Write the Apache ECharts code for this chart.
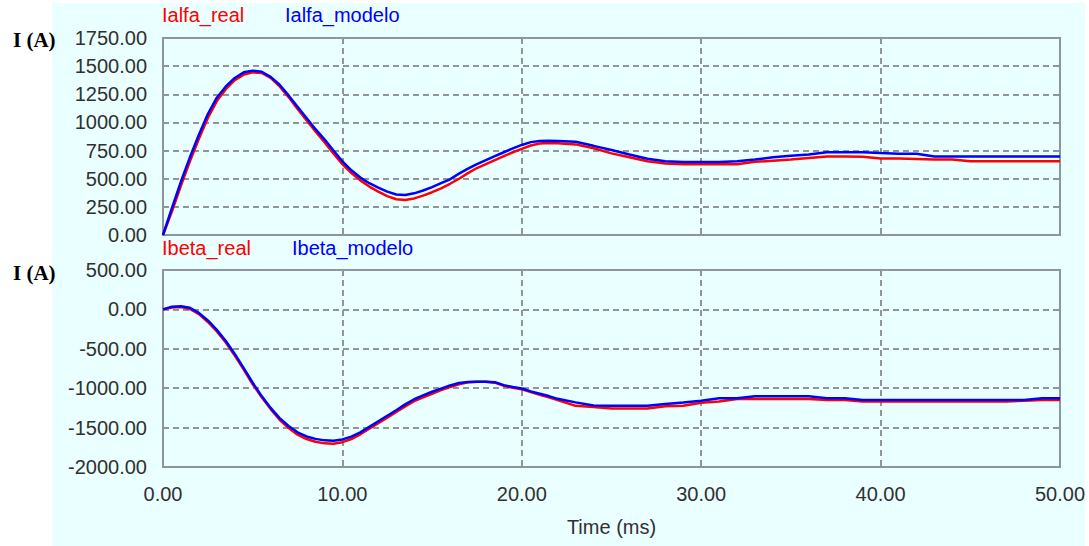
<!DOCTYPE html>
<html>
<head>
<meta charset="utf-8">
<script src="https://cdn.jsdelivr.net/npm/echarts@6/dist/echarts.min.js"></script>
<style>
html,body{margin:0;padding:0;background:#ffffff;}
#bg{position:absolute;left:52px;top:3px;width:1033px;height:543px;background:#EAFFFF;}
#chart{position:absolute;left:0;top:0;width:1089px;height:546px;}
</style>
</head>
<body>
<div id="bg"></div>
<div id="chart"></div>
<script>
// time axis (ms)
const timeMs = [0,0.5,1,1.5,2,2.5,3,3.5,4,4.5,5,5.5,6,6.5,7,7.5,8,8.5,9,9.5,10,10.5,11,11.5,12,12.5,13,13.5,14,14.5,15,15.5,16,16.5,17,17.5,18,18.5,19,19.5,20,20.5,21,21.5,22,23,24,25,26,27,28,29,30,31,32,33,34,35,36,37,38,39,40,41,42,43,44,45,46,47,48,49,50];

const ialfaReal = [0,210,440,655,855,1040,1190,1295,1375,1425,1445,1440,1395,1320,1225,1120,1020,920,825,725,630,550,485,430,385,345,318,311,325,350,380,415,455,500,550,595,630,665,700,735,765,795,812,818,815,805,770,725,690,655,635,629,629,629,629,650,660,670,684,697,697,695,680,680,675,670,670,655,655,655,655,655,655];

const ialfaModelo = [0,240,475,690,890,1075,1220,1320,1395,1445,1460,1450,1405,1335,1240,1140,1040,940,850,750,655,575,510,460,420,385,360,355,370,395,425,460,495,545,590,630,665,700,735,770,800,825,836,838,835,828,792,755,715,678,655,648,648,648,656,670,690,705,715,736,736,736,728,721,721,697,697,697,697,697,697,697,697];

const ibetaReal = [0,25,30,5,-60,-160,-280,-420,-585,-765,-950,-1115,-1265,-1400,-1505,-1590,-1645,-1680,-1700,-1705,-1685,-1645,-1585,-1515,-1445,-1375,-1300,-1230,-1165,-1115,-1070,-1025,-985,-950,-925,-918,-918,-930,-970,-995,-1015,-1050,-1085,-1115,-1150,-1224,-1240,-1258,-1258,-1258,-1230,-1224,-1185,-1168,-1137,-1137,-1137,-1137,-1137,-1150,-1150,-1168,-1168,-1168,-1168,-1168,-1168,-1168,-1168,-1168,-1159,-1150,-1150];

const ibetaModelo = [0,35,40,20,-45,-140,-260,-400,-565,-745,-930,-1100,-1250,-1380,-1480,-1560,-1612,-1643,-1662,-1668,-1650,-1615,-1560,-1490,-1420,-1350,-1280,-1205,-1140,-1090,-1045,-1005,-965,-935,-920,-918,-918,-925,-961,-985,-1003,-1040,-1070,-1100,-1135,-1180,-1220,-1224,-1224,-1224,-1202,-1181,-1159,-1128,-1128,-1103,-1103,-1103,-1103,-1128,-1128,-1150,-1150,-1150,-1150,-1150,-1150,-1150,-1150,-1150,-1150,-1128,-1128];

const seriesNames = ['Ialfa_real','Ialfa_modelo','Ibeta_real','Ibeta_modelo'];
const yTitle = 'I (A)';
const xTitle = 'Time (ms)';

const pair = arr => timeMs.map((t,i)=>[t, arr[i]]);

const labelFont = {fontFamily:'Liberation Sans, Arial, sans-serif', fontSize:20, color:'#303030'};
const gridLine = {show:true, lineStyle:{color:'#8e969c', width:2, type:[6,4]}};

const chart = echarts.init(document.getElementById('chart'), null, {renderer:'svg'});
chart.setOption({
  backgroundColor:'transparent',
  animation:false,
  grid:[
    {left:163, top:38, width:897, height:197, show:true, borderColor:'#8a949c', borderWidth:2, backgroundColor:'transparent'},
    {left:163, top:270, width:897, height:197, show:true, borderColor:'#8a949c', borderWidth:2, backgroundColor:'transparent'}
  ],
  xAxis:[
    {type:'value', gridIndex:0, min:0, max:50, interval:10, axisLine:{show:false}, axisTick:{show:false}, axisLabel:{show:false}, splitLine:gridLine},
    {type:'value', gridIndex:1, min:0, max:50, interval:10, axisLine:{show:false}, axisTick:{show:false},
     axisLabel:Object.assign({margin:17, formatter:v=>v.toFixed(2)}, labelFont), splitLine:gridLine,
     name:xTitle, nameLocation:'middle', nameGap:50, nameTextStyle:Object.assign({}, labelFont)}
  ],
  yAxis:[
    {type:'value', gridIndex:0, min:0, max:1750, interval:250, axisLine:{show:false}, axisTick:{show:false},
     axisLabel:Object.assign({margin:16, formatter:v=>v.toFixed(2)}, labelFont), splitLine:gridLine},
    {type:'value', gridIndex:1, min:-2000, max:500, interval:500, axisLine:{show:false}, axisTick:{show:false},
     axisLabel:Object.assign({margin:16, formatter:v=>v.toFixed(2)}, labelFont), splitLine:gridLine}
  ],
  graphic:[
    {type:'text', left:13, top:29, style:{text:yTitle, font:'bold 21px "Liberation Serif", "Times New Roman", serif', fill:'#000'}},
    {type:'text', left:13, top:262, style:{text:yTitle, font:'bold 21px "Liberation Serif", "Times New Roman", serif', fill:'#000'}},
    {type:'text', left:162, top:5, style:{text:seriesNames[0], font:'20px "Liberation Sans", Arial, sans-serif', fill:'#ff0000'}},
    {type:'text', left:285, top:5, style:{text:seriesNames[1], font:'20px "Liberation Sans", Arial, sans-serif', fill:'#0000ff'}},
    {type:'text', left:162, top:238, style:{text:seriesNames[2], font:'20px "Liberation Sans", Arial, sans-serif', fill:'#ff0000'}},
    {type:'text', left:292, top:238, style:{text:seriesNames[3], font:'20px "Liberation Sans", Arial, sans-serif', fill:'#0000ff'}}
  ],
  series:[
    {name:seriesNames[0], type:'line', xAxisIndex:0, yAxisIndex:0, data:pair(ialfaReal), showSymbol:false, lineStyle:{color:'#ff0000', width:2.5}, itemStyle:{color:'#ff0000'}},
    {name:seriesNames[1], type:'line', xAxisIndex:0, yAxisIndex:0, data:pair(ialfaModelo), showSymbol:false, lineStyle:{color:'#0000ff', width:2.5}, itemStyle:{color:'#0000ff'}},
    {name:seriesNames[2], type:'line', xAxisIndex:1, yAxisIndex:1, data:pair(ibetaReal), showSymbol:false, lineStyle:{color:'#ff0000', width:2.5}, itemStyle:{color:'#ff0000'}},
    {name:seriesNames[3], type:'line', xAxisIndex:1, yAxisIndex:1, data:pair(ibetaModelo), showSymbol:false, lineStyle:{color:'#0000ff', width:2.5}, itemStyle:{color:'#0000ff'}}
  ]
});
</script>
</body>
</html>
